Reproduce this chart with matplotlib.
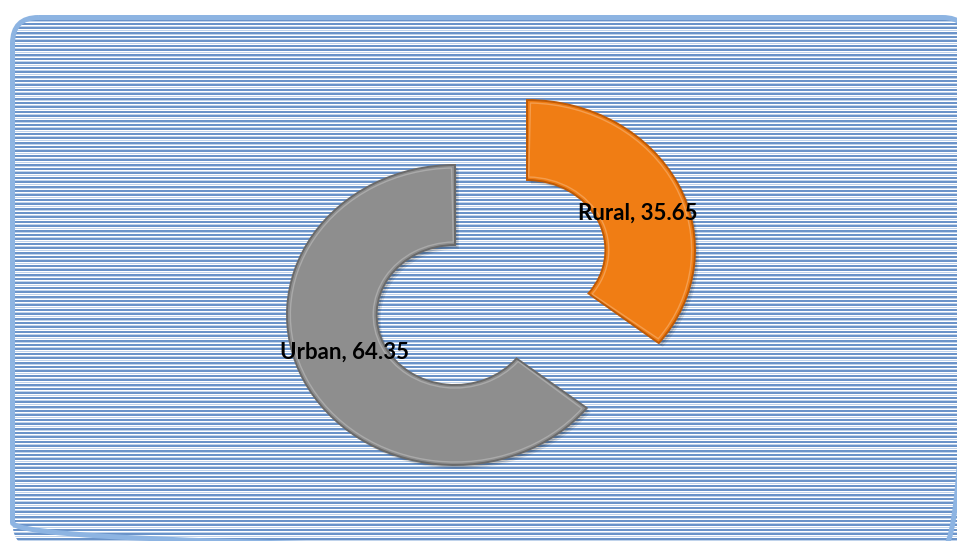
import numpy as np
import matplotlib
matplotlib.use('Agg')
import matplotlib.pyplot as plt
from matplotlib.patches import FancyBboxPatch

labels = ['Rural', 'Urban']
values = [35.65, 64.35]
colors = ['#F07D14', '#8E8E8E']
edge_colors = ['#C05A04', '#6A6A6A']

# pixel layout
W, H = 957, 541
sx = 1.12            # horizontal stretch of the doughnut
base = (491, 282.5)  # centre before explosion (px)
shift = [(36, -32.5), (-36, 32.5)]
label_pos = [(638, 213), (344, 352)]

fig = plt.figure(figsize=(W / 100, H / 100), dpi=100)
ax = fig.add_axes([0, 0, 1, 1])
ax.set_xlim(0, W)
ax.set_ylim(H, 0)
ax.axis('off')

bstyle = 'round,pad=0,rounding_size=26'
box = FancyBboxPatch((12.5, 17.5), 956, 531, boxstyle=bstyle,
                     facecolor='white', edgecolor='none', zorder=1)
ax.add_patch(box)
ys = np.arange(19.5, H + 4, 4.4)
ln = ax.hlines(ys, 0, W, colors='#5A88C4', linewidth=1.3, zorder=2)
ln.set_clip_path(box)
ln2 = ax.hlines(ys + 1.7, 0, W, colors='#B4CBE8', linewidth=0.6, zorder=2)
ln2.set_clip_path(box)
ax.add_patch(FancyBboxPatch((12.5, 17.5), 956, 531, boxstyle=bstyle,
                            facecolor='none', edgecolor='#8DB4E2', linewidth=3.6, zorder=3))

# doughnut on a stretched axes (y inverted, so counterclock=True runs clockwise on screen)
ax2 = fig.add_axes([0, 0, 1, 1])
wedges, _ = ax2.pie(values, startangle=-90, counterclock=True, radius=150,
                    colors=colors, center=(base[0] / sx, base[1]),
                    wedgeprops=dict(width=80, edgecolor='none'))
ax2.set_aspect('auto')
ax2.set_xlim(0, W / sx)
ax2.set_ylim(H, 0)
ax2.axis('off')
for w, (dx, dy), ec in zip(wedges, shift, edge_colors):
    cx, cy = base[0] / sx + dx / sx, base[1] + dy
    w.set_center((cx, cy))
    w.set_edgecolor(ec)
    w.set_linewidth(1.4)
    w.set_zorder(5)
    # soft drop shadow
    for k, a in [(4, 0.10), (2.5, 0.14)]:
        sh = plt.matplotlib.patches.Wedge((cx + k / sx, cy + k), 150, w.theta1, w.theta2,
                                          width=80, facecolor='black', edgecolor='none',
                                          alpha=a, zorder=4)
        ax2.add_patch(sh)
    # inner highlight for a bevel look
    hl = plt.matplotlib.patches.Wedge((cx, cy), 147, w.theta1 + 1.2, w.theta2 - 1.2,
                                      width=74, facecolor='none', edgecolor='white',
                                      linewidth=1.0, alpha=0.25, zorder=6)
    ax2.add_patch(hl)

for lab, v, (x, y) in zip(labels, values, label_pos):
    ax2.text(x / sx, y, f'{lab}, {v:.2f}', ha='center', va='center', fontsize=16,
             fontweight='bold', family='Lato', color='black', zorder=10)

fig.savefig('out.png', dpi=100)
